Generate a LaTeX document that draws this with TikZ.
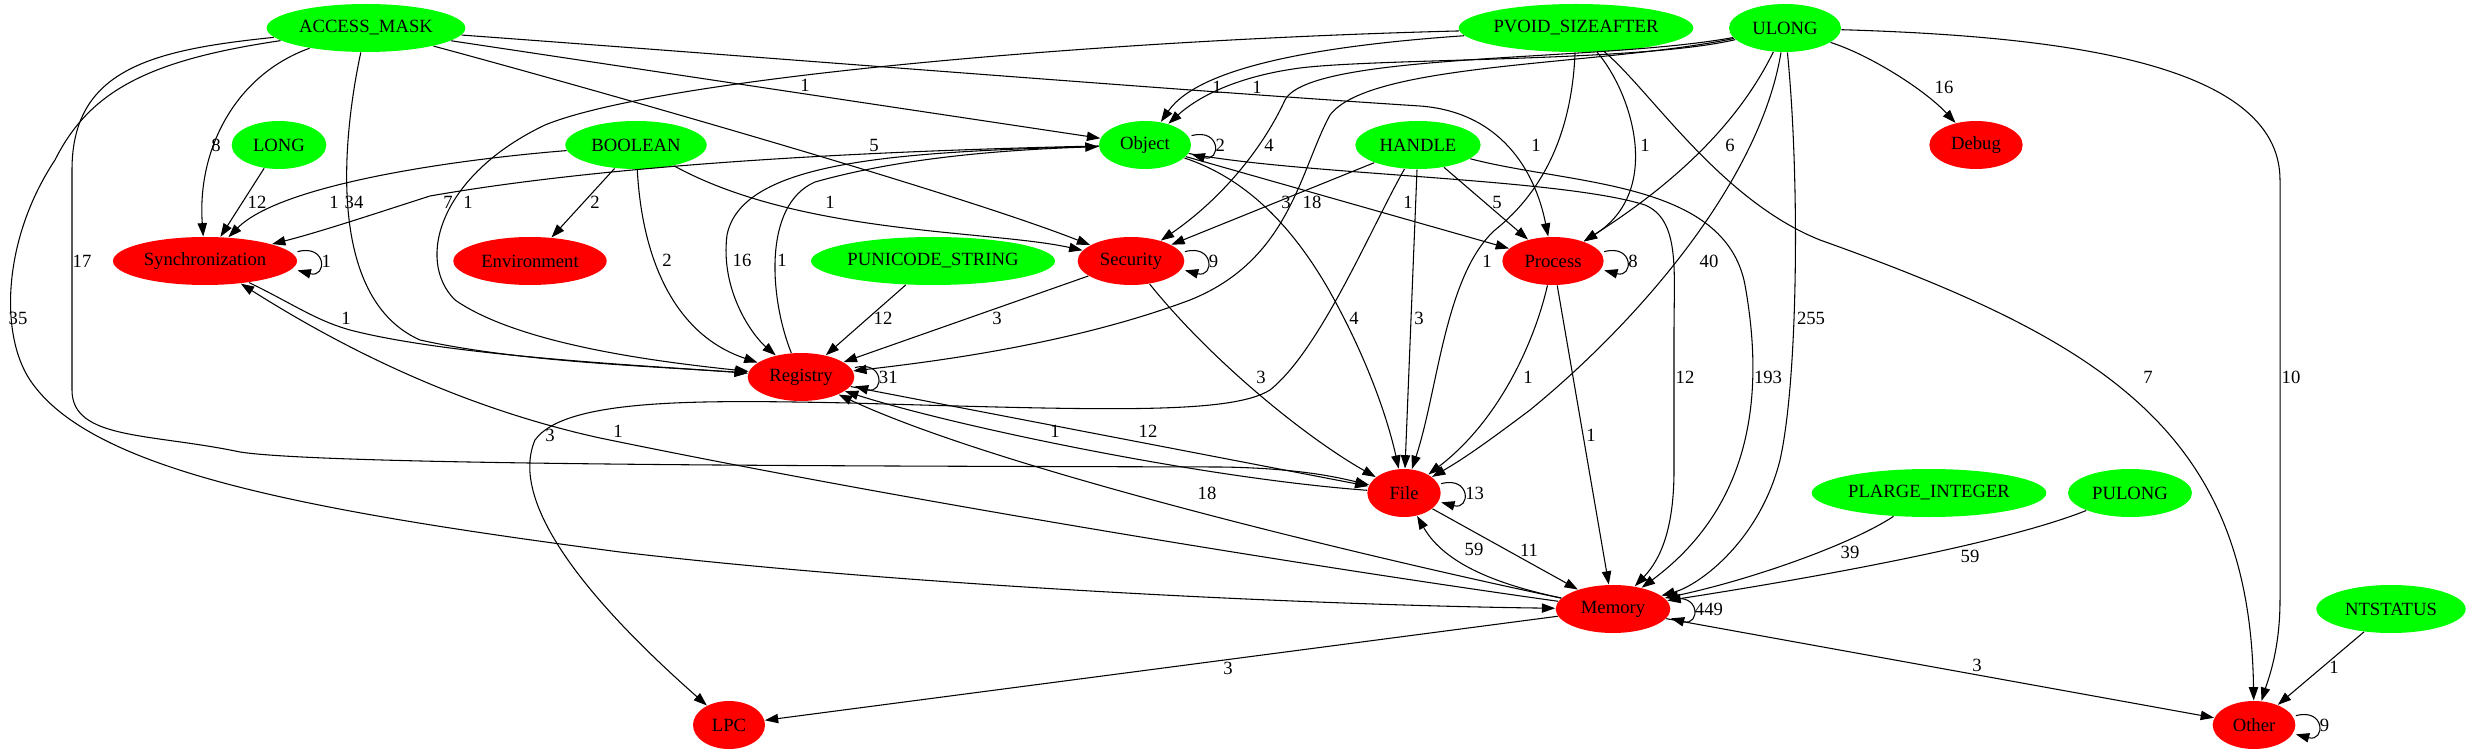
\documentclass[tikz,border=0pt]{standalone}
\usepackage{fontspec}
\setmainfont{Liberation Serif}
\usetikzlibrary{shapes.geometric,arrows.meta}

\begin{document}
\begin{tikzpicture}[->,>={Triangle[length=10pt,width=7pt]},x=0.75pt,y=-0.75pt,
                    line width=0.8pt,font=\fontsize{14}{16}\selectfont,
                    typ/.style={shape=ellipse,fill=green,draw=none,inner sep=0pt,minimum height=36pt},
                    cls/.style={shape=ellipse,fill=red,draw=none,inner sep=0pt,minimum height=36pt},
                    lbl/.style={inner sep=1pt},
                    selfloop/.style={out=15,in=-15,looseness=1,min distance=23pt}]
  \useasboundingbox (0,0) rectangle (2472,755);

  \node[typ,minimum width=149pt] (AM)     at (366,28)   {ACCESS\_MASK};
  \node[typ,minimum width=176pt] (PVOID)  at (1576,28)  {PVOID\_SIZEAFTER};
  \node[typ,minimum width=84pt]  (ULONG)  at (1785,28)  {ULONG};
  \node[typ,minimum width=71pt]  (LONG)   at (279,145)  {LONG};
  \node[typ,minimum width=106pt] (BOOL)   at (636,145)  {BOOLEAN};
  \node[typ,minimum width=69pt]  (OBJ)    at (1145,145) {Object};
  \node[typ,minimum width=94pt]  (HANDLE) at (1418,145) {HANDLE};
  \node[cls,minimum width=70pt]  (DEBUG)  at (1976,145) {Debug};
  \node[cls,minimum width=138pt] (SYNC)   at (205,261)  {Synchronization};
  \node[cls,minimum width=115pt] (ENV)    at (530,261)  {Environment};
  \node[typ,minimum width=183pt] (PUNI)   at (933,261)  {PUNICODE\_STRING};
  \node[cls,minimum width=80pt]  (SEC)    at (1131,261) {Security};
  \node[cls,minimum width=76pt]  (PROC)   at (1553,261) {Process};
  \node[cls,minimum width=80pt]  (REG)    at (801,377)  {Registry};
  \node[cls,minimum width=55pt]  (FILE)   at (1404,493) {File};
  \node[typ,minimum width=176pt] (PLARGE) at (1929,493) {PLARGE\_INTEGER};
  \node[typ,minimum width=93pt]  (PULONG) at (2130,493) {PULONG};
  \node[cls,minimum width=86pt]  (MEM)    at (1613,609) {Memory};
  \node[typ,minimum width=112pt] (NTS)    at (2391,609) {NTSTATUS};
  \node[cls,minimum width=54pt]  (LPC)    at (729,725)  {LPC};
  \node[cls,minimum width=62pt]  (OTHER)  at (2254,725) {Other};

  % ACCESS_MASK
  \draw (AM) .. controls (235,75) and (197,150) .. (SYNC) node[lbl] at (216,145) {8};
  \draw (AM) .. controls (340,150) and (330,300) .. (420,340)
             .. controls (520,362) and (650,366) .. (REG) node[lbl] at (354,202) {34};
  \draw (AM) .. controls (150,50) and (72,70) .. (72,170) -- (72,390)
             .. controls (72,440) and (150,433) .. (240,452)
             .. controls (330,466) and (900,466) .. (1220,467)
             .. controls (1300,468) and (1340,478) .. (FILE) node[lbl] at (82,261) {17};
  \draw (AM) .. controls (150,60) and (90,90) .. (55,160)
             .. controls (2,240) and (0,335) .. (30,380)
             .. controls (90,470) and (300,510) .. (620,552)
             .. controls (900,585) and (1300,605) .. (MEM) node[lbl] at (18,318) {35};
  \draw (AM) -- (OBJ) node[lbl] at (805,85) {1};
  \draw (AM) .. controls (560,80) and (950,190) .. (SEC) node[lbl] at (874,145) {5};
  \draw (AM) .. controls (800,60) and (1200,92) .. (1420,106)
             .. controls (1500,112) and (1535,170) .. (PROC) node[lbl] at (1536,145) {1};

  % PVOID_SIZEAFTER
  \draw (PVOID) .. controls (1100,40) and (660,78) .. (545,125)
                .. controls (440,175) and (415,260) .. (455,300)
                .. controls (520,345) and (660,362) .. (REG) node[lbl] at (468,202) {1};
  \draw (PVOID) .. controls (1330,45) and (1200,65) .. (OBJ) node[lbl] at (1217,87) {1};
  \draw (PVOID) .. controls (1630,90) and (1665,190) .. (PROC) node[lbl] at (1645,145) {1};
  \draw (PVOID) .. controls (1572,130) and (1545,190) .. (1495,230)
                .. controls (1445,275) and (1438,390) .. (FILE) node[lbl] at (1487,261) {1};
  \draw (PVOID) .. controls (1650,90) and (1720,200) .. (1820,240)
                .. controls (2100,340) and (2250,430) .. (OTHER) node[lbl] at (2148,377) {7};

  % ULONG
  \draw (ULONG) .. controls (1640,62) and (1380,58) .. (1300,68)
                .. controls (1240,76) and (1200,95) .. (OBJ) node[lbl] at (1257,87) {1};
  \draw (ULONG) .. controls (1600,62) and (1310,52) .. (1285,100)
                .. controls (1262,150) and (1220,200) .. (SEC) node[lbl] at (1269,145) {4};
  \draw (ULONG) .. controls (1600,66) and (1370,62) .. (1330,115)
                .. controls (1300,170) and (1290,260) .. (1190,300)
                .. controls (1070,345) and (930,362) .. (REG) node[lbl] at (1312,202) {18};
  \draw (ULONG) .. controls (1740,120) and (1680,180) .. (PROC) node[lbl] at (1730,145) {6};
  \draw (ULONG) .. controls (1760,180) and (1640,320) .. (1530,410)
                .. controls (1490,440) and (1465,458) .. (FILE) node[lbl] at (1709,261) {40};
  \draw (ULONG) .. controls (1800,180) and (1798,380) .. (1780,460)
                .. controls (1760,540) and (1700,585) .. (MEM) node[lbl] at (1811,318) {255};
  \draw (ULONG) .. controls (1870,55) and (1925,90) .. (DEBUG) node[lbl] at (1944,87) {16};
  \draw (ULONG) .. controls (2050,36) and (2280,60) .. (2280,180) -- (2280,600)
                .. controls (2280,650) and (2268,680) .. (OTHER) node[lbl] at (2291,377) {10};

  % HANDLE
  \draw (HANDLE) -- (SEC) node[lbl] at (1286,202) {3};
  \draw (HANDLE) -- (PROC) node[lbl] at (1497,202) {5};
  \draw (HANDLE) -- (FILE) node[lbl] at (1419,318) {3};
  \draw (HANDLE) .. controls (1370,230) and (1320,350) .. (1270,390)
                 .. controls (1230,415) and (1100,410) .. (850,403)
                 .. controls (700,400) and (565,398) .. (535,440)
                 .. controls (505,510) and (610,620) .. (LPC) node[lbl] at (550,435) {3};
  \draw (HANDLE) .. controls (1570,185) and (1725,180) .. (1745,285)
                 .. controls (1762,380) and (1760,500) .. (MEM) node[lbl] at (1768,377) {193};

  % Object
  \draw (OBJ) -- (PROC) node[lbl] at (1408,202) {1};
  \draw (OBJ) .. controls (1245,178) and (1292,225) .. (1330,292)
              .. controls (1368,360) and (1388,420) .. (FILE) node[lbl] at (1354,318) {4};
  \draw (OBJ) .. controls (1300,175) and (1560,178) .. (1645,205)
              .. controls (1680,220) and (1674,270) .. (1674,330) -- (1674,470)
              .. controls (1674,530) and (1660,560) .. (MEM) node[lbl] at (1685,377) {12};
  \draw (OBJ) .. controls (900,152) and (742,160) .. (727,235)
              .. controls (720,290) and (752,335) .. (REG) node[lbl] at (742,260) {16};
  \draw (REG) .. controls (770,300) and (762,205) .. (815,182)
              .. controls (900,158) and (1000,150) .. (OBJ) node[lbl] at (782,260) {1};
  \draw (OBJ) .. controls (820,152) and (590,168) .. (430,196)
              .. controls (380,212) and (320,232) .. (SYNC) node[lbl] at (448,202) {7};
  \draw ([yshift=7pt]OBJ.east) to[selfloop] node[lbl,right] {2} ([yshift=-7pt]OBJ.east);

  % BOOLEAN, LONG, PUNICODE_STRING
  \draw (LONG) -- (SYNC) node[lbl] at (257,202) {12};
  \draw (BOOL) .. controls (450,160) and (280,185) .. (SYNC) node[lbl] at (334,202) {1};
  \draw (BOOL) -- (ENV) node[lbl] at (595,202) {2};
  \draw (BOOL) .. controls (642,260) and (675,335) .. (REG) node[lbl] at (667,260) {2};
  \draw (BOOL) .. controls (800,235) and (990,230) .. (SEC) node[lbl] at (830,202) {1};
  \draw (PUNI) -- (REG) node[lbl] at (883,318) {12};

  % Synchronization, Security, Registry
  \draw ([yshift=7pt]SYNC.east) to[selfloop] node[lbl,right] {1} ([yshift=-7pt]SYNC.east);
  \draw (SYNC) .. controls (295,305) and (315,320) .. (350,330)
               .. controls (450,356) and (650,366) .. (REG) node[lbl] at (346,318) {1};
  \draw (SEC) -- (REG) node[lbl] at (997,318) {3};
  \draw (SEC) .. controls (1215,365) and (1310,440) .. (FILE) node[lbl] at (1261,377) {3};
  \draw ([yshift=7pt]SEC.east) to[selfloop] node[lbl,right] {9} ([yshift=-7pt]SEC.east);
  \draw ([yshift=7pt]REG.east) to[selfloop] node[lbl,right] {31} ([yshift=-7pt]REG.east);
  \draw (REG) -- (FILE) node[lbl] at (1148,431) {12};

  % Process, File
  \draw ([yshift=7pt]PROC.east) to[selfloop] node[lbl,right] {8} ([yshift=-7pt]PROC.east);
  \draw (PROC) .. controls (1535,340) and (1500,420) .. (FILE) node[lbl] at (1528,377) {1};
  \draw (PROC) -- (MEM) node[lbl] at (1591,435) {1};
  \draw ([yshift=7pt]FILE.east) to[selfloop] node[lbl,right] {13} ([yshift=-7pt]FILE.east);
  \draw (FILE) .. controls (1200,478) and (950,425) .. (REG) node[lbl] at (1055,431) {1};
  \draw (FILE) -- (MEM) node[lbl] at (1529,550) {11};

  % Memory
  \draw ([yshift=7pt]MEM.east) to[selfloop] node[lbl,right] {449} ([yshift=-7pt]MEM.east);
  \draw (MEM) .. controls (1300,565) and (900,500) .. (600,438)
              .. controls (450,405) and (330,340) .. (SYNC) node[lbl] at (618,431) {1};
  \draw (MEM) .. controls (1380,560) and (1000,470) .. (REG) node[lbl] at (1207,493) {18};
  \draw (MEM) .. controls (1500,585) and (1445,565) .. (FILE) node[lbl] at (1474,549) {59};
  \draw (MEM) -- (LPC) node[lbl] at (1228,668) {3};
  \draw (MEM) -- (OTHER) node[lbl] at (1977,665) {3};
  \draw (PLARGE) .. controls (1850,545) and (1750,580) .. (MEM) node[lbl] at (1850,552) {39};
  \draw (PULONG) .. controls (2000,545) and (1800,580) .. (MEM) node[lbl] at (1970,556) {59};

  % NTSTATUS, Other
  \draw (NTS) -- (OTHER) node[lbl] at (2334,667) {1};
  \draw ([yshift=7pt]OTHER.east) to[selfloop] node[lbl,right] {9} ([yshift=-7pt]OTHER.east);
\end{tikzpicture}
\end{document}
